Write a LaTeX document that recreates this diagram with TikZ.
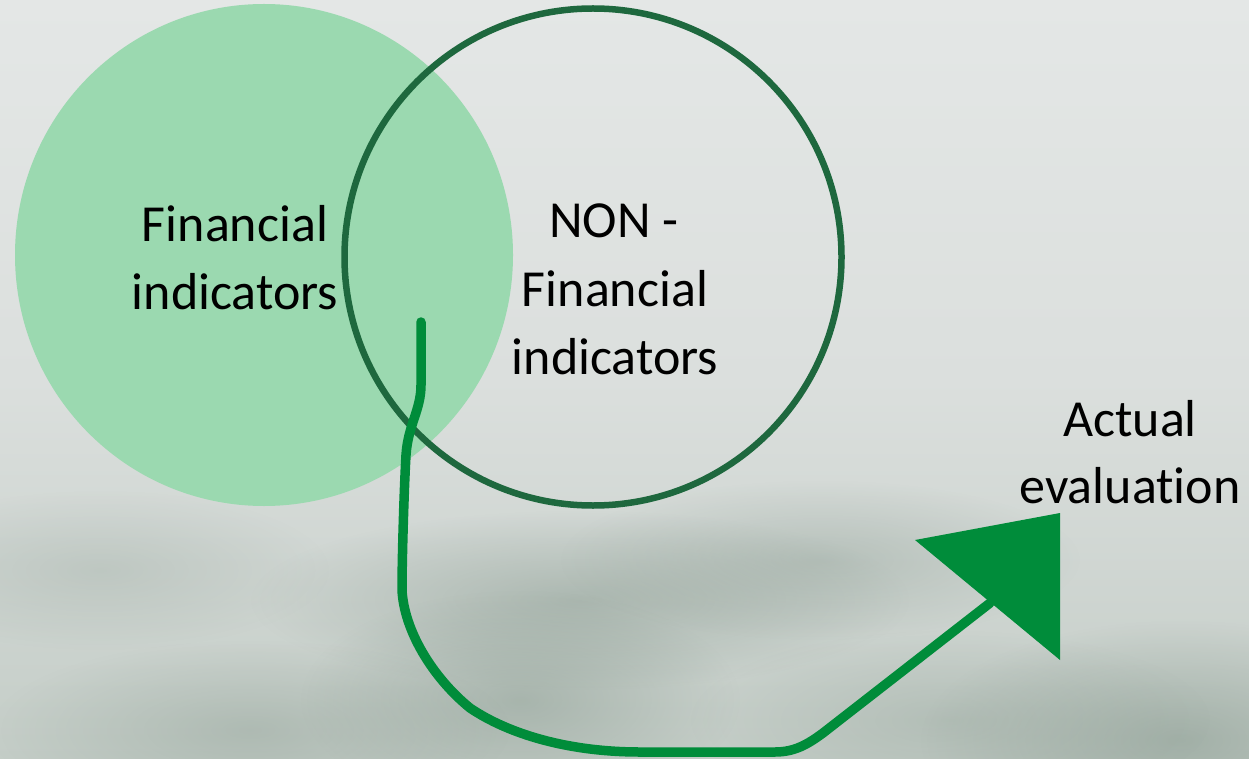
\documentclass[tikz,border=0pt]{standalone}
\usepackage{fontspec}
\setmainfont{Carlito}[Ligatures=NoCommon]
\usetikzlibrary{fadings}
\tikzfading[name=softspot, inner color=transparent!0, outer color=transparent!100]
\definecolor{bgtop}{RGB}{228,231,230}
\definecolor{bgmid}{RGB}{219,223,221}
\definecolor{bgbot}{RGB}{196,205,199}
\definecolor{shadowc}{RGB}{120,140,128}
\definecolor{lightfill}{RGB}{155,217,176}
\definecolor{darkring}{RGB}{30,104,62}
\definecolor{arrowg}{RGB}{0,140,58}
\tikzset{
  lbl/.style={font=\fontsize{52}{67}\selectfont, text=black, inner sep=0pt, anchor=base},
  shade spot/.style={fill=shadowc, path fading=softspot},
  flow/.style={draw=arrowg, line width=9.5pt, line cap=round, line join=round},
}
\begin{document}
\begin{tikzpicture}[x=1pt,y=-1pt]
\useasboundingbox (0,0) rectangle (1249,759);
% background
\shade[top color=bgtop, bottom color=bgbot, middle color=bgmid] (0,0) rectangle (1249,759);
\fill[shade spot, opacity=0.4] (580,600) ellipse (330 and 90);
\fill[shade spot, opacity=0.3] (820,560) ellipse (260 and 80);
\fill[shade spot, opacity=0.4] (520,700) ellipse (220 and 110);
\fill[shade spot, opacity=0.3] (250,730) ellipse (260 and 90);
\fill[shade spot, opacity=0.45] (1180,740) ellipse (260 and 120);
\fill[shade spot, opacity=0.25] (950,720) ellipse (260 and 90);
\fill[shade spot, opacity=0.2] (100,570) ellipse (230 and 80);
% circles
\fill[lightfill] (264,255) ellipse (249 and 251);
\node[draw=darkring, line width=6.5pt, circle, minimum size=497pt, inner sep=0pt] (nonfin) at (593,257) {};
% labels
\node[lbl] (fin1) at (235,242) {Financial};
\node[lbl] (fin2) at (235,309) {indicators};
\node[lbl] (non1) at (614,238) {NON -};
\node[lbl] (non2) at (615,306) {Financial};
\node[lbl] (non3) at (615,374) {indicators};
\node[lbl] (act1) at (1130,436) {Actual};
\node[lbl] (act2) at (1130,503) {evaluation};
% arrow
\coordinate (start) at (421,322);
\coordinate (tipbase) at (990,603);
\draw[flow] (start) -- (421,385) .. controls (421,410) and (408,425) .. (406,455)
  .. controls (404,490) and (402,560) .. (402,590)
  .. controls (404,630) and (432,677) .. (470,708)
  .. controls (510,735) and (570,752) .. (640,752)
  -- (775,752) .. controls (795,752) and (808,744) .. (823,733) -- (tipbase);
\fill[arrowg] (915,540) -- (1060,513) -- (1060,660) -- cycle;
\end{tikzpicture}
\end{document}
